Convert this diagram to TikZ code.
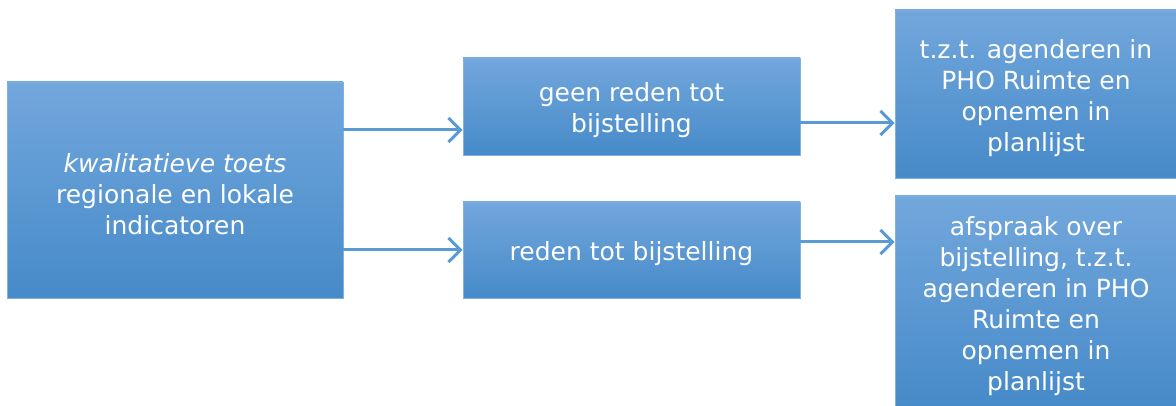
\documentclass[tikz,border=0pt]{standalone}
\usepackage{fontspec}
\setmainfont{DejaVu Sans}
\usetikzlibrary{arrows.meta}
\definecolor{boxtop}{HTML}{72A7DC}
\definecolor{boxmid}{HTML}{559BDA}
\definecolor{boxbot}{HTML}{468AC9}
\definecolor{boxedge}{HTML}{7DB2E3}
\definecolor{arrowc}{HTML}{5B9BD5}
\tikzset{
  box/.style={draw=boxedge, line width=0.8pt, top color=boxtop, middle color=boxmid, bottom color=boxbot, inner sep=0pt},
  boxtext/.style={label={[text=white, align=center, inner sep=0pt, yshift=-4pt, font=\fontsize{25}{31}\selectfont]center:#1}},
  arr/.style={draw=arrowc, line width=3pt, -{Straight Barb[length=12pt,width=24pt,line width=3pt]}}
}
\begin{document}
\begin{tikzpicture}[x=1pt,y=-1pt]
\useasboundingbox (0,0) rectangle (1176,406);
\node[box, minimum width=336pt, minimum height=216pt, boxtext={\textit{kwalitatieve toets}\\regionale en lokale\\indicatoren}] (L) at (175,190) {};
\node[box, minimum width=337pt, minimum height=97pt, boxtext={geen reden tot\\bijstelling}] (MT) at (631.5,106.5) {};
\node[box, minimum width=337pt, minimum height=96pt, boxtext={reden tot bijstelling}] (MB) at (631.5,250) {};
\node[box, minimum width=282pt, minimum height=168pt, boxtext={t.z.t. agenderen in\\PHO Ruimte en\\opnemen in\\planlijst}] (RT) at (1036,94) {};
\node[box, minimum width=282pt, minimum height=212pt, boxtext={afspraak over\\bijstelling, t.z.t.\\agenderen in PHO\\Ruimte en\\opnemen in\\planlijst}] (RB) at (1036,302) {};
\draw[arr] (L.east |- 0,130) -- (MT.west |- 0,130);
\draw[arr] (L.east |- 0,250) -- (MB.west |- 0,250);
\draw[arr] (MT.east |- 0,123) -- (RT.west |- 0,123);
\draw[arr] (MB.east |- 0,242) -- (RB.west |- 0,242);
\end{tikzpicture}
\end{document}
